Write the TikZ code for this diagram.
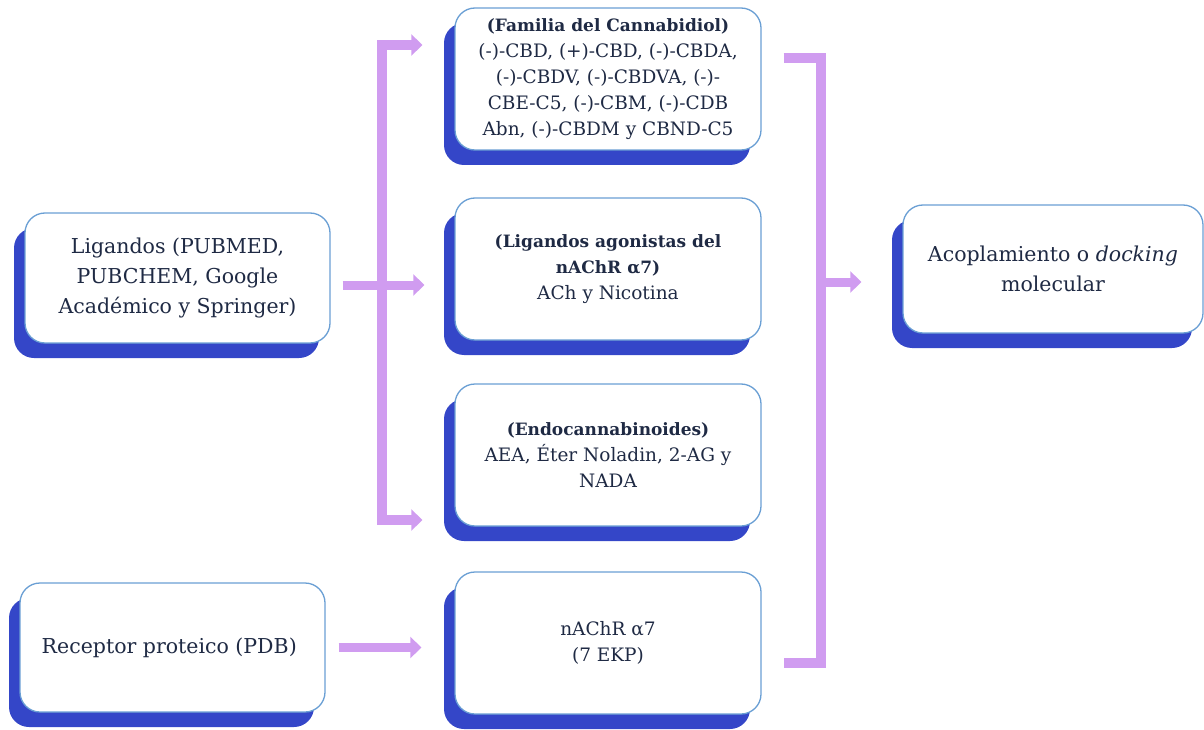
\documentclass[tikz,border=0pt]{standalone}
\usepackage{fontspec}
\setmainfont{DejaVu Serif}
\usetikzlibrary{positioning, arrows.meta, shadows}
\definecolor{edgeblue}{HTML}{6A9FD4}
\definecolor{shadeblue}{HTML}{3446C8}
\definecolor{inkblue}{HTML}{1F2A44}
\definecolor{lilac}{HTML}{D09CF0}
\newcommand{\headtxt}[1]{{\fontsize{17}{26}\selectfont\bfseries #1}}

\begin{document}
\begin{tikzpicture}[x = 1pt, y = -1pt,
    box/.style = { draw = edgeblue, line width = 1.3pt, fill = white, rounded corners = 20pt,
      drop shadow={shadow xshift=-11pt,shadow yshift=-15pt,fill=shadeblue,opacity=1},
      align = center, text = inkblue, inner sep = 4pt },
    outbox/.style = { box, minimum width = 305pt, minimum height = 130pt, font = \fontsize{20.5}{30}\selectfont },
    midbox/.style = { box, minimum width = 306pt, minimum height = 142pt, font = \fontsize{18.5}{26}\selectfont },
    conn/.style = { draw = lilac, line width = 10pt },
    arr/.style = { draw = lilac, line width = 9pt, -{Triangle[length = 11pt, width = 21pt]} }]
    \useasboundingbox (0,0) rectangle (1204,730);

    % sources
    \node[outbox] (lig) at (177.5,278) { Ligandos (PUBMED, \\ PUBCHEM, Google \\ Académico y Springer) };
    \node[outbox, minimum height = 129pt] (prot) at (172.5,647.5) { Receptor proteico (PDB) };

    % middle column
    \node[midbox] (fam) at (608,79) { \headtxt{(Familia del Cannabidiol)} \\ (-)-CBD, (+)-CBD, (-)-CBDA, \\ (-)-CBDV, (-)-CBDVA, (-)- \\ CBE-C5, (-)-CBM, (-)-CDB \\ Abn, (-)-CBDM y CBND-C5 };
    \node[midbox] (ago) at (608,269) { \headtxt{(Ligandos agonistas del} \\ \headtxt{nAChR α7)} \\ ACh y Nicotina };
    \node[midbox] (endo) at (608,455) { \headtxt{(Endocannabinoides)} \\ AEA, Éter Noladin, 2-AG y \\ NADA };
    \node[midbox] (ache) at (608,643) { nAChR α7 \\ (7 EKP) };

    \node[outbox, minimum width = 300pt, minimum height = 128pt] (dock) at (1053,269) { Acoplamiento o \textit{docking} \\ molecular };

    % left bracket
    \coordinate (ltop) at (382,45);
    \coordinate (lmid) at (382,285);
    \coordinate (lbot) at (382,520);
    \draw[conn, {Triangle[length = 11pt, width = 21pt]}-{Triangle[length = 11pt, width = 21pt]}, shorten <= 32pt, shorten >= 32pt]
      (fam.west |- ltop) -- (ltop) -- (lbot) -- (endo.west |- lbot);
    \draw[arr, shorten <= 12pt, shorten >= 30pt] (lig.east |- lmid) -- (ago.west |- lmid);

    % right bracket
    \coordinate (rtop) at (821,58);
    \coordinate (rmid) at (821,282);
    \coordinate (rbot) at (821,663);
    \draw[conn, shorten <= 22pt, shorten >= 22pt] (fam.east |- rtop) -- (rtop) -- (rbot) -- (ache.east |- rbot);
    \draw[arr, shorten >= 41pt] (rmid) -- (dock.west |- rmid);

    \draw[arr, shorten <= 13pt, shorten >= 33pt] (prot.east) -- (ache.west |- prot.east);
\end{tikzpicture}
\end{document}
